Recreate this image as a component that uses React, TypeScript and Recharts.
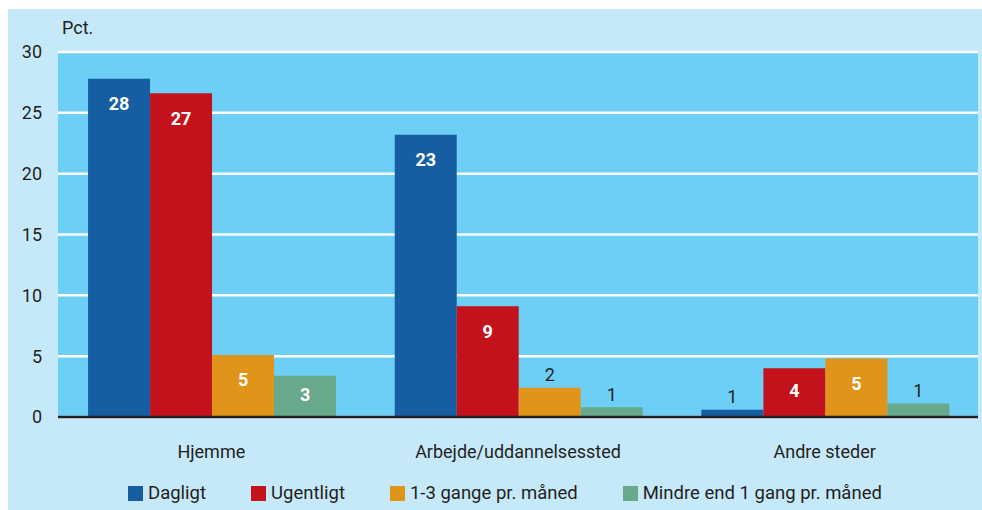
import { BarChart, Bar, XAxis, YAxis, CartesianGrid, LabelList } from 'recharts';

const categories = ['Hjemme', 'Arbejde/uddannelsessted', 'Andre steder'];
const dagligt = [27.8, 23.2, 0.6];
const ugentligt = [26.6, 9.1, 4.0];
const gange13 = [5.1, 2.4, 4.8];
const mindre = [3.4, 0.8, 1.1];
const yTicks = [0, 5, 10, 15, 20, 25, 30];

const series = [
  { key: 'dagligt', name: 'Dagligt', color: '#155ea2' },
  { key: 'ugentligt', name: 'Ugentligt', color: '#c3121b' },
  { key: 'gange13', name: '1-3 gange pr. måned', color: '#e09419' },
  { key: 'mindre', name: 'Mindre end 1 gang pr. måned', color: '#67a98a' },
];

const data = categories.map((name, i) => ({
  name,
  dagligt: dagligt[i],
  ugentligt: ugentligt[i],
  gange13: gange13[i],
  mindre: mindre[i],
}));

const font = 'Roboto, "Open Sans", sans-serif';
const textColor = '#231f20';

function ValueLabel(props: any) {
  const { x, y, width, height, value } = props;
  const cx = x + width / 2;
  const shown = Math.round(value);
  if (value >= 3) {
    return (
      <text x={cx} y={y + Math.min(25, height * 0.45)} textAnchor="middle" dominantBaseline="central"
        fill="#fff" fontWeight={700} fontSize={18} fontFamily={font}>
        {shown}
      </text>
    );
  }
  return (
    <text x={cx} y={y - 13} textAnchor="middle" dominantBaseline="central"
      fill={textColor} fontSize={18} fontFamily={font}>
      {shown}
    </text>
  );
}

export default function App() {
  return (
    <div style={{
      position: 'absolute', left: 8, top: 9, width: 974, height: 501,
      background: '#c6e9f9', fontFamily: font, color: textColor,
    }}>
      <div style={{ position: 'absolute', left: 54, top: 8, fontSize: 18 }}>Pct.</div>
      <BarChart width={974} height={501} data={data}
        margin={{ top: 43, right: 4, left: 0, bottom: 43 }}
        barCategoryGap="9.8%" barGap={0}>
        <CartesianGrid vertical={false} stroke="#ffffff" strokeWidth={2.5} fill="#6dcff6" fillOpacity={1} />
        <XAxis dataKey="name" height={50} tickLine={false} tickMargin={22}
          axisLine={{ stroke: textColor, strokeWidth: 2.5 }}
          tick={{ fontSize: 18, fill: textColor, fontFamily: font }} />
        <YAxis domain={[0, 30]} ticks={yTicks} width={50} axisLine={false} tickLine={false} tickMargin={10}
          tick={{ fontSize: 18, fill: textColor, fontFamily: font }} />
        {series.map((s) => (
          <Bar key={s.key} dataKey={s.key} name={s.name} fill={s.color} isAnimationActive={false}>
            <LabelList dataKey={s.key} content={ValueLabel} />
          </Bar>
        ))}
      </BarChart>
      <div style={{
        position: 'absolute', left: 120, top: 474, display: 'flex', gap: 45,
        fontSize: 18.5, lineHeight: '20px',
      }}>
        {series.map((s) => (
          <div key={s.key} style={{ display: 'flex', alignItems: 'center' }}>
            <span style={{ display: 'inline-block', width: 15, height: 15, background: s.color, marginRight: 5 }} />
            <span>{s.name}</span>
          </div>
        ))}
      </div>
    </div>
  );
}
